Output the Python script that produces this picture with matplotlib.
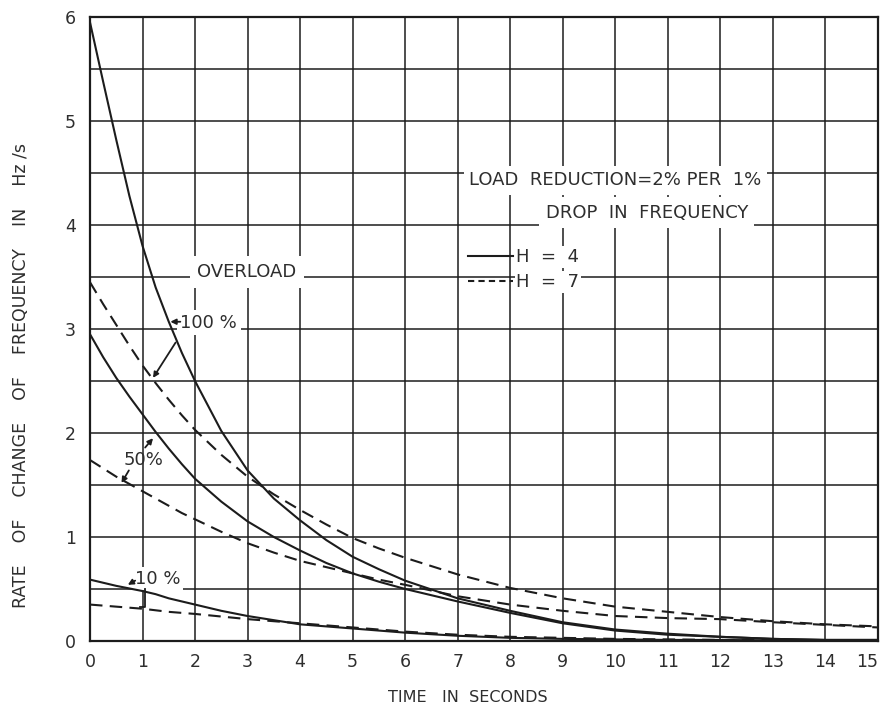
import numpy as np
import matplotlib

matplotlib.use('Agg')
import matplotlib.pyplot as plt

# time axis (s) and rate of change of frequency (Hz/s) for each overload
t = [0, 0.25, 0.5, 0.75, 1, 1.25, 1.5, 1.75, 2, 2.5, 3, 3.5, 4, 4.5, 5, 5.5, 6,
     7, 8, 9, 10, 11, 12, 13, 14, 15]

h4_100 = [5.95, 5.38, 4.82, 4.28, 3.80, 3.40, 3.07, 2.77, 2.50, 2.02, 1.64, 1.37, 1.16,
          0.97, 0.81, 0.69, 0.58, 0.41, 0.29, 0.18, 0.11, 0.07, 0.04, 0.02, 0.01, 0.01]
h7_100 = [3.45, 3.24, 3.04, 2.84, 2.65, 2.48, 2.32, 2.17, 2.03, 1.79, 1.58, 1.41, 1.26,
          1.12, 0.99, 0.89, 0.80, 0.64, 0.51, 0.41, 0.33, 0.28, 0.23, 0.19, 0.16, 0.14]
h4_50 = [2.95, 2.73, 2.53, 2.35, 2.18, 2.01, 1.85, 1.70, 1.56, 1.34, 1.15, 1.00, 0.87,
         0.75, 0.65, 0.57, 0.50, 0.38, 0.27, 0.17, 0.10, 0.06, 0.04, 0.02, 0.01, 0.01]
h7_50 = [1.74, 1.66, 1.58, 1.51, 1.44, 1.37, 1.30, 1.23, 1.17, 1.05, 0.94, 0.85, 0.77,
         0.71, 0.65, 0.59, 0.54, 0.43, 0.35, 0.29, 0.24, 0.22, 0.21, 0.18, 0.155, 0.13]
h4_10 = [0.59, 0.56, 0.53, 0.505, 0.48, 0.45, 0.41, 0.38, 0.35, 0.29, 0.24, 0.20, 0.16,
         0.14, 0.12, 0.10, 0.08, 0.05, 0.03, 0.02, 0.015, 0.01, 0.01, 0.005, 0.005, 0.0]
h7_10 = [0.35, 0.34, 0.33, 0.32, 0.31, 0.295, 0.28, 0.27, 0.26, 0.235, 0.21, 0.19, 0.17,
         0.15, 0.13, 0.11, 0.09, 0.06, 0.04, 0.03, 0.02, 0.015, 0.01, 0.01, 0.005, 0.0]

x_ticks = list(range(0, 16))
y_ticks = list(range(0, 7))

INK = '#1c1c1c'
LBL = '#2e2e2e'
DASH = (0, (6, 3.5))

fig = plt.figure(figsize=(8.84, 7.11), dpi=100)
ax = fig.add_axes([0.1018, 0.0985, 0.8912, 0.8775])

# curves: solid H = 4, dashed H = 7
for y in (h4_100, h4_50, h4_10):
    ax.plot(t, y, color=INK, lw=1.5, zorder=3)
for y in (h7_100, h7_50, h7_10):
    ax.plot(t, y, color=INK, lw=1.5, linestyle=DASH, zorder=3)

ax.set_xlim(0, 15)
ax.set_ylim(0, 6)
ax.set_xticks(x_ticks)
ax.set_xticklabels([str(v) for v in x_ticks])
ax.set_yticks(y_ticks)
ax.set_yticklabels([str(v) for v in y_ticks])
ax.set_yticks(np.arange(0, 6.01, 0.5), minor=True)
ax.grid(True, which='both', color=INK, lw=1.1, zorder=1)
ax.set_axisbelow(True)
ax.tick_params(which='both', length=0, labelsize=12.5, colors=LBL)
ax.tick_params(axis='x', pad=9)
ax.tick_params(axis='y', pad=10)
ax.get_xticklabels()[-1].set_horizontalalignment('right')
for s in ax.spines.values():
    s.set_color(INK)
    s.set_linewidth(1.6)

ax.set_xlabel('TIME   IN  SECONDS', fontsize=11.5, color=LBL)
ax.xaxis.set_label_coords(0.48, -0.078)
ax.set_ylabel('RATE    OF    CHANGE    OF    FREQUENCY    IN    Hz /s', fontsize=12.5,
              color=LBL)
ax.yaxis.set_label_coords(-0.076, 0.426)

txt = dict(fontsize=13, color=LBL, zorder=2.5)

# notes on the chart
ax.text(10.0, 4.43, 'LOAD  REDUCTION=2% PER  1%', ha='center', va='center',
        bbox=dict(boxstyle='square,pad=0.3', fc='white', ec='none'), **txt)
ax.text(10.6, 4.12, 'DROP  IN  FREQUENCY', ha='center', va='center',
        bbox=dict(boxstyle='square,pad=0.35', fc='white', ec='none'), **txt)
ax.text(2.04, 3.55, 'OVERLOAD', ha='left', va='center',
        bbox=dict(boxstyle='square,pad=0.4', fc='white', ec='none'), **txt)

# legend for the two inertia constants
ax.text(8.12, 3.69, 'H  =  4', ha='left', va='center',
        bbox=dict(boxstyle='square,pad=0.1', fc='white', ec='none'), **txt)
ax.text(8.12, 3.45, 'H  =  7', ha='left', va='center',
        bbox=dict(boxstyle='square,pad=0.1', fc='white', ec='none'), **txt)
ax.plot([7.2, 8.05], [3.70, 3.70], color=INK, lw=1.5, zorder=3)
ax.plot([7.2, 8.05], [3.46, 3.46], color=INK, lw=1.5, linestyle=(0, (3, 2)), zorder=3)

ax.text(1.72, 3.06, '100 %', ha='left', va='center',
        bbox=dict(boxstyle='square,pad=0.2', fc='white', ec='none'), **txt)
ax.text(0.63, 1.74, '50%', ha='left', va='center', fontsize=13, color=LBL, zorder=2.5)
ax.text(0.86, 0.6, '10 %', ha='left', va='center',
        bbox=dict(boxstyle='square,pad=0.15', fc='white', ec='none'), **txt)

arw = dict(arrowstyle='-|>', color=INK, lw=1.3, mutation_scale=8, shrinkA=0, shrinkB=0)
ax.annotate('', xy=(1.53, 3.07), xytext=(1.72, 3.07), arrowprops=arw, zorder=4)
ax.annotate('', xy=(1.2, 2.53), xytext=(1.63, 2.87), arrowprops=arw, zorder=4)
ax.annotate('', xy=(1.2, 1.95), xytext=(1.05, 1.86), arrowprops=arw, zorder=4)
ax.annotate('', xy=(0.6, 1.52), xytext=(0.74, 1.64), arrowprops=arw, zorder=4)
ax.annotate('', xy=(0.72, 0.54), xytext=(0.86, 0.58), arrowprops=arw, zorder=4)
ax.plot([1.05, 1.05, 0.95], [0.5, 0.33, 0.33], color=INK, lw=1.3, zorder=4)

fig.savefig('out.png', dpi=100)
